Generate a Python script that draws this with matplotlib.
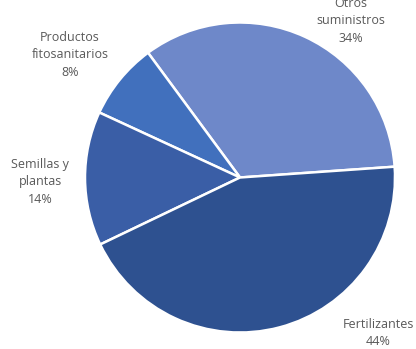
import matplotlib
matplotlib.use('Agg')
import matplotlib.pyplot as plt

labels = ['Otros\nsuministros', 'Productos\nfitosanitarios', 'Semillas y\nplantas', 'Fertilizantes']
values = [34, 8, 14, 44]
colors = ['#6e88c9', '#4170bd', '#3a5ea6', '#2e5190']

# label centres in pixels (x, y from top)
label_px = [(351, 21), (70, 55), (40, 182), (378, 333)]

W, H = 416, 349
cx, cy, r = 240, 177.5, 155

fig = plt.figure(figsize=(W / 100, H / 100), dpi=100)
ax = fig.add_axes([(cx - r) / W, (H - cy - r) / H, 2 * r / W, 2 * r / H])

ax.pie(values, colors=colors, startangle=4, counterclock=True,
       wedgeprops={'edgecolor': 'white', 'linewidth': 1.8})
ax.set_xlim(-1, 1)
ax.set_ylim(-1, 1)
ax.set_aspect('equal')
ax.axis('off')

for lab, v, (px, py) in zip(labels, values, label_px):
    fig.text(px / W, 1 - py / H, f'{lab}\n{v}%', ha='center', va='center',
             fontsize=9, color='#595959', family='Open Sans', linespacing=1.45)

fig.savefig('out.png', dpi=100)
